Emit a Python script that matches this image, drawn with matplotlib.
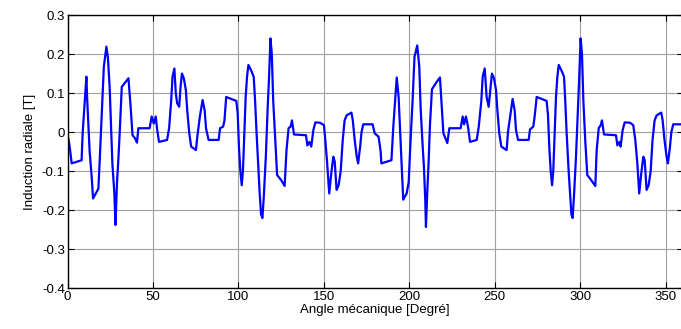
import matplotlib
matplotlib.use('Agg')
import matplotlib.pyplot as plt

# angle (deg) and radial induction (T)
angle = [0, 1, 2.4, 8.2, 8.8, 9.6, 11, 11.4, 12.9, 14.1, 14.9, 18, 18.8, 20, 21.2,
         22.7, 23.6, 24.6, 25.4, 26.2, 27.4, 28, 28.9, 29.7, 30.5, 31.7, 35.6, 36.8,
         38, 39.5, 40.6, 41.4, 48, 49.2, 50.4, 51.6, 52.3, 53.5, 58.2, 59.4, 60.6,
         61.4, 62.5, 63.3, 64.1, 65.3, 66.1, 66.9, 68, 69.2, 70, 71.2, 72.3, 75.1,
         75.9, 77.4, 79, 80.2, 81, 82.5, 88.4, 89.2,
         91, 91.8, 92.8, 98.7, 99.5, 100.3, 101.1, 101.9, 102.6, 103.4, 104.2, 105,
         105.8, 107.3, 108.9, 109.7, 110.5, 111.7, 112.4, 113.2, 114, 114.8, 116,
         117.1, 117.9, 118.7, 119.5, 120.3, 121.5, 122.6, 125, 127, 128.1, 129.3,
         130.5, 131.3, 132.5, 139.5, 140.3, 141.5, 142.6, 143.8, 145, 147.7, 150,
         150.8, 151.9, 153.1, 154.3, 155.5, 156.3, 157.4, 158.6, 159.8, 161, 162.1,
         163.3, 166.1, 166.9, 168, 169.2, 170, 171.2,
         172, 173, 178.5, 179.7, 182, 183.2, 183.6, 189.5, 190.6, 191.8, 192.6,
         193.7, 194.5, 195.7, 196.4, 198.4, 199.6, 200.7, 201.9, 203, 204.6, 205.8,
         206.6, 207.8, 208.5, 209.3, 209.7, 210.5, 211.3, 212, 213.2, 215.9, 217.9,
         218.7, 219.9, 221.1, 222.2, 223.4, 230, 231.2, 232, 233.1, 234.3, 235.5,
         239.4, 240.6, 242.1, 242.9, 244.1, 245.2, 246.4, 247.6, 248.3, 249.5,
         250.7, 251.5, 252.6, 253.8, 256.9, 257.7, 259.3, 260.4, 261.6, 262.4,
         263.6, 269.8, 270.6, 272.5, 273.3, 274.5, 280.3, 281.1, 281.9, 282.7,
         283.5, 284.2, 285, 285.8, 286.6, 287.4, 289.3, 290.5, 291.2, 292, 293.2,
         294, 294.8, 295.5, 296.3, 297.5, 298.7, 299.4, 300.2, 301, 301.8, 302.9,
         304.1, 306.4, 308.8, 309.6, 310.8, 312, 312.7, 313.9, 320.9, 321.7, 322.9,
         323.6, 324.8, 326, 329.1, 331, 332.2, 333.4, 334.5, 335.7, 336.9, 337.7,
         338.8, 340, 341.2, 342.3, 343.5, 344.7, 347.4, 348.2, 349.3, 350.5, 351.3,
         352.5, 353.3, 354.4, 360]

induction = [-0.008, -0.03, -0.08, -0.072, -0.003, 0.05, 0.142, 0.09, -0.05, -0.115,
             -0.17, -0.145, -0.072, 0.05, 0.167, 0.219, 0.19, 0.116, 0.014, -0.08,
             -0.16, -0.238, -0.13, -0.07, 0.0, 0.116, 0.138, 0.07, -0.008, -0.016,
             -0.027, 0.01, 0.01, 0.04, 0.022, 0.04, 0.01, -0.025, -0.02, 0.01, 0.08,
             0.142, 0.163, 0.1, 0.074, 0.065, 0.116, 0.15, 0.138, 0.108, 0.056, -0.003,
             -0.037, -0.046, -0.012, 0.04, 0.082, 0.056, 0.01, -0.02, -0.02, 0.01,
             0.014, 0.03, 0.09, 0.08, 0.05, -0.04, -0.1, -0.136, -0.1, -0.003, 0.09,
             0.142, 0.172, 0.159, 0.142, 0.082, 0.005, -0.1, -0.157, -0.21, -0.22,
             -0.166, -0.063, 0.065, 0.142, 0.24, 0.2, 0.082, -0.02, -0.11, -0.123,
             -0.138, -0.046, 0.01, 0.014, 0.03, -0.006, -0.008, -0.034, -0.025,
             -0.037, 0.005, 0.025, 0.024, 0.018, -0.02, -0.08, -0.157, -0.105,
             -0.063, -0.075, -0.148, -0.136, -0.1, -0.02, 0.03, 0.043, 0.05, 0.03,
             -0.02, -0.063, -0.08, -0.037,
             0.0, 0.02, 0.02, -0.003, -0.012, -0.05, -0.08, -0.072, 0.014, 0.09, 0.14,
             0.09, 0.01, -0.106, -0.173, -0.157, -0.128, -0.02, 0.082, 0.193, 0.222,
             0.167, 0.06, -0.038, -0.088, -0.174, -0.243, -0.15, -0.072, 0.014, 0.11,
             0.128, 0.14, 0.082, -0.003, -0.016, -0.028, 0.01, 0.01, 0.04, 0.02, 0.04,
             0.014, -0.025, -0.02, 0.014, 0.08, 0.142, 0.163, 0.09, 0.065, 0.12, 0.15,
             0.138, 0.108, 0.056, -0.003, -0.037, -0.046, 0.0, 0.05, 0.085, 0.056,
             0.005, -0.02, -0.02, 0.007, 0.014, 0.04, 0.09, 0.08, 0.045, -0.04, -0.1,
             -0.136, -0.1, -0.003, 0.09, 0.142, 0.172, 0.155, 0.142, 0.082, 0.0, -0.1,
             -0.157, -0.21, -0.22, -0.166, -0.063, 0.065, 0.142, 0.24, 0.2, 0.082,
             -0.02, -0.11, -0.123, -0.138, -0.046, 0.01, 0.018, 0.03, -0.006, -0.008,
             -0.034, -0.025, -0.037, 0.005, 0.025, 0.024, 0.018, -0.02, -0.08, -0.157,
             -0.105, -0.063, -0.072, -0.148, -0.136, -0.1, -0.02, 0.03, 0.043, 0.05,
             0.03, -0.02, -0.063, -0.08, -0.037, 0.0, 0.02, 0.02]

xticks = [0, 50, 100, 150, 200, 250, 300, 350]
yticks = [-0.4, -0.3, -0.2, -0.1, 0, 0.1, 0.2, 0.3]
ytick_labels = ['-0.4', '-0.3', '-0.2', '-0.1', '0', '0.1', '0.2', '0.3']

plt.rcParams['font.family'] = ['Liberation Sans', 'DejaVu Sans']
plt.rcParams['axes.unicode_minus'] = False

W, H = 681, 329
fig = plt.figure(figsize=(W / 100, H / 100), dpi=100)
ax = fig.add_axes([67.6 / W, (H - 288.3) / H, 615.2 / W, 273.3 / H])

ax.plot(angle, induction, color='#0000ff', linewidth=1.6)

ax.set_xlim(0, 360)
ax.set_ylim(-0.4, 0.3)
ax.set_xticks(xticks)
ax.set_yticks(yticks)
ax.set_yticklabels(ytick_labels)
ax.grid(True, color='#a0a0a0', linewidth=0.8, linestyle='-')
ax.tick_params(direction='in', length=4, width=0.8, top=True, right=True,
               labelsize=9.5, colors='black', pad=2)
for s in ax.spines.values():
    s.set_linewidth(1.0)
    s.set_color('black')

ax.set_xlabel('Angle mécanique [Degré]', fontsize=9.5, labelpad=1)
ax.set_ylabel('Induction radiale [T]', fontsize=9.5, labelpad=4)

fig.savefig('out.png', dpi=100)
